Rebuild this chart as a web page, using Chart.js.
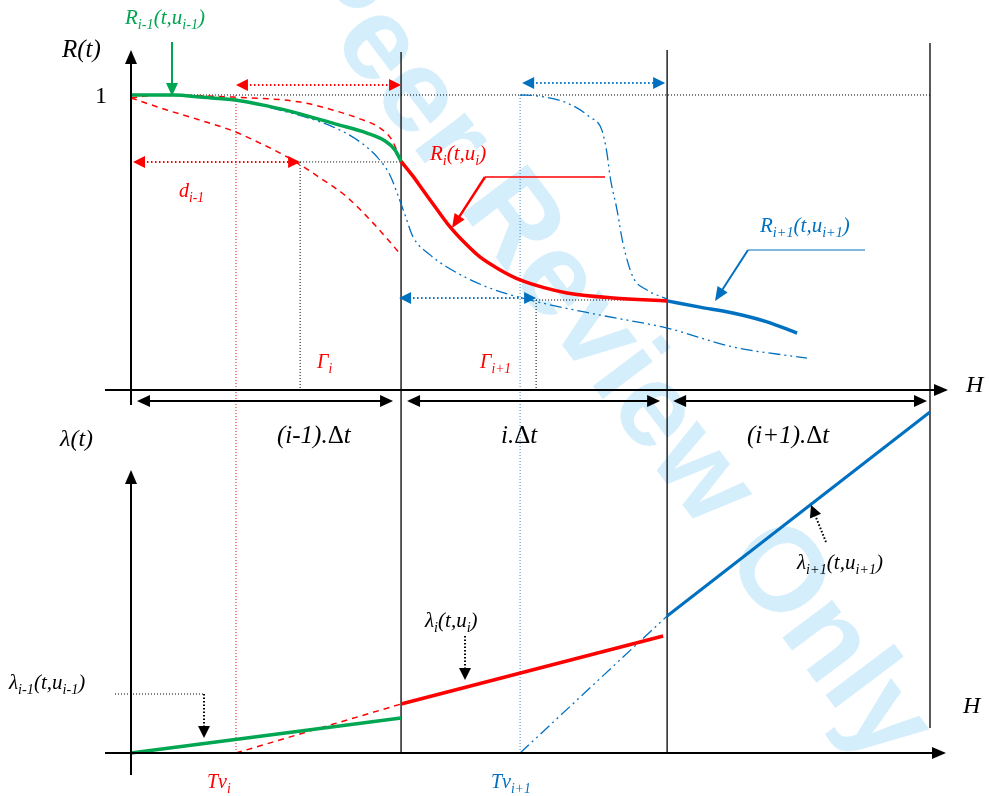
<!DOCTYPE html>
<html>
<head>
<meta charset="utf-8">
<title>R(t) and lambda(t) over successive intervals</title>
<script src="https://cdn.jsdelivr.net/npm/chart.js@4.4.1/dist/chart.umd.min.js"></script>
<style>
  body { margin: 0; background: #fff; }
  #wrap { width: 990px; height: 796px; }
</style>
</head>
<body>
<div id="wrap"><canvas id="diagram" width="990" height="796"></canvas></div>
<script>
// time axis is in units of delta t, R is reliability (0..1), lambda in arbitrary units
var intervalEnds = [1.014, 2.013, 3.0];
var tvPrev = 0.394;      // Tv_i
var tvNext = 1.461;      // Tv_i+1
var gammaI = 0.635;      // Gamma_i
var gammaNext = 1.521;   // Gamma_i+1
var rAtGammaI = 0.773;
var rAtGammaNext = 0.305;

// top panel: reliability curves
var rPrevT = [0, 0.165, 0.259, 0.390, 0.511, 0.635, 0.766, 0.886, 0.954, 0.991, 1.014];
var rPrevR = [1.0, 1.0, 0.993, 0.983, 0.963, 0.936, 0.902, 0.871, 0.844, 0.814, 0.775];

var rUpperDashT = [0, 0.109, 0.383, 0.635, 0.758, 0.860, 0.935, 0.980, 1.014];
var rUpperDashR = [0.990, 1.0, 0.993, 0.976, 0.949, 0.919, 0.888, 0.847, 0.775];

var rLowerDashT = [0, 0.135, 0.259, 0.383, 0.484, 0.586, 0.710, 0.811, 0.916, 1.014];
var rLowerDashR = [0.990, 0.949, 0.915, 0.878, 0.837, 0.790, 0.719, 0.654, 0.559, 0.458];

var rLongDashDotT = [0, 0.184, 0.383, 0.559, 0.758, 0.860, 0.924, 0.972, 0.999, 1.029, 1.059, 1.123, 1.186, 1.337, 1.498, 1.761, 2.013, 2.260, 2.538];
var rLongDashDotR = [1.0, 0.997, 0.983, 0.949, 0.892, 0.841, 0.790, 0.729, 0.668, 0.593, 0.519, 0.458, 0.417, 0.349, 0.305, 0.254, 0.210, 0.146, 0.108];

var rShiftDashDotT = [1.461, 1.524, 1.637, 1.723, 1.768, 1.787, 1.799, 1.825, 1.847, 1.885, 1.937, 2.013];
var rShiftDashDotR = [1.0, 0.997, 0.973, 0.925, 0.881, 0.803, 0.722, 0.610, 0.498, 0.383, 0.339, 0.308];

var rCurT = [1.014, 1.055, 1.096, 1.145, 1.198, 1.254, 1.310, 1.386, 1.461, 1.554, 1.637, 1.810, 2.013];
var rCurR = [0.775, 0.729, 0.678, 0.617, 0.553, 0.498, 0.451, 0.407, 0.373, 0.346, 0.329, 0.312, 0.302];

var rNextT = [2.013, 2.136, 2.260, 2.388, 2.501];
var rNextR = [0.302, 0.281, 0.261, 0.231, 0.193];

// bottom panel: failure rates
var lamPrevT = [0, 1.014];
var lamPrev = [0, 0.35];
var lamCurDashT = [0.394, 1.014];
var lamCurDash = [0, 0.49];
var lamCurT = [1.014, 1.998];
var lamCur = [0.49, 1.17];
var lamNextDashT = [1.461, 2.013];
var lamNextDash = [0, 1.37];
var lamNextT = [2.013, 3.0];
var lamNext = [1.37, 3.41];

var GREEN = '#00a651';
var RED = '#ff0000';
var BLUE = '#0070c0';
var LIGHTBLUE = '#5b9bd5';
var SERIF = '"Liberation Serif", "DejaVu Serif", serif';

function pts(xs, ys) {
    return xs.map(function(x, i) { return { x: x, y: ys[i] }; });
}

function curve(data, color, width, dash, axis, smooth) {
    return {
        data: data,
        yAxisID: axis,
        borderColor: color,
        borderWidth: width,
        borderDash: dash || [],
        pointRadius: 0,
        fill: false,
        cubicInterpolationMode: smooth ? 'monotone' : 'default',
        tension: 0
    };
}

// text with _{...} subscripts, italic serif (Greek capitals stay upright)
function rich(ctx, str, x, y, size, color) {
    var parts = [];
    var re = /_\{([^}]*)\}|([^_]+)/g, m;
    while ((m = re.exec(str)) !== null) {
        if (m[1] !== undefined) parts.push({ t: m[1], sub: true });
        else {
            // split off the upright delta
            m[2].split(/(\u0394)/).forEach(function(s) {
                if (s) parts.push({ t: s, sub: false, up: s === '\u0394' });
            });
        }
    }
    ctx.save();
    ctx.fillStyle = color;
    ctx.textBaseline = 'alphabetic';
    ctx.textAlign = 'left';
    var cx = x;
    parts.forEach(function(p) {
        ctx.font = (p.up ? '' : 'italic ') + (p.sub ? size * 0.68 : size) + 'px ' + SERIF;
        ctx.fillText(p.t, cx, y + (p.sub ? size * 0.25 : 0));
        cx += ctx.measureText(p.t).width;
    });
    ctx.restore();
}

function head(ctx, x1, y1, x2, y2, color, len, wid) {
    var a = Math.atan2(y2 - y1, x2 - x1);
    len = len || 11; wid = wid || 5;
    ctx.save();
    ctx.fillStyle = color;
    ctx.beginPath();
    ctx.moveTo(x2, y2);
    ctx.lineTo(x2 - len * Math.cos(a) + wid * Math.sin(a), y2 - len * Math.sin(a) - wid * Math.cos(a));
    ctx.lineTo(x2 - len * Math.cos(a) - wid * Math.sin(a), y2 - len * Math.sin(a) + wid * Math.cos(a));
    ctx.closePath();
    ctx.fill();
    ctx.restore();
}

function seg(ctx, x1, y1, x2, y2, color, width, dash) {
    ctx.save();
    ctx.strokeStyle = color;
    ctx.lineWidth = width;
    ctx.setLineDash(dash || []);
    ctx.beginPath();
    ctx.moveTo(x1, y1);
    ctx.lineTo(x2, y2);
    ctx.stroke();
    ctx.restore();
}

function arrow(ctx, x1, y1, x2, y2, color, width, dash, len, wid) {
    var a = Math.atan2(y2 - y1, x2 - x1);
    var l = (len || 11) - 2;
    seg(ctx, x1, y1, x2 - l * Math.cos(a), y2 - l * Math.sin(a), color, width, dash);
    head(ctx, x1, y1, x2, y2, color, len, wid);
}

function dblArrow(ctx, x1, y, x2, color, width, dash, len, wid) {
    var l = (len || 11) - 2;
    seg(ctx, x1 + l, y, x2 - l, y, color, width, dash);
    head(ctx, x2, y, x1, y, color, len, wid);
    head(ctx, x1, y, x2, y, color, len, wid);
}

var watermark = {
    id: 'watermark',
    beforeDatasetsDraw: function(chart) {
        var ctx = chart.ctx;
        ctx.save();
        ctx.translate(608, 352);
        ctx.rotate(53 * Math.PI / 180);
        ctx.font = 'bold 118px "Liberation Sans", Arial, sans-serif';
        ctx.fillStyle = '#d5eefb';
        ctx.textAlign = 'center';
        ctx.textBaseline = 'middle';
        ctx.fillText('Peer Review Only', 0, 0);
        ctx.restore();
    }
};

var frame = {
    id: 'frame',
    beforeDatasetsDraw: function(chart) {
        var ctx = chart.ctx;
        var x = chart.scales.x, yR = chart.scales.yR, yL = chart.scales.yL;
        var X = function(v) { return x.getPixelForValue(v); };
        var R = function(v) { return yR.getPixelForValue(v); };
        var L = function(v) { return yL.getPixelForValue(v); };

        // interval boundaries
        seg(ctx, X(intervalEnds[0]), 52, X(intervalEnds[0]), L(0), '#222', 1.5);
        seg(ctx, X(intervalEnds[1]), 50, X(intervalEnds[1]), L(0), '#222', 1.5);
        seg(ctx, X(intervalEnds[2]), 43, X(intervalEnds[2]), 728, '#222', 1.5);

        // guides
        seg(ctx, X(0), R(1), X(intervalEnds[2]), R(1), '#000', 1, [1, 2]);
        seg(ctx, X(tvPrev), R(1), X(tvPrev), L(0), RED, 1, [1, 2]);
        seg(ctx, X(tvNext), R(1), X(tvNext), L(0), LIGHTBLUE, 1.2, [1, 2]);
        seg(ctx, X(gammaI), R(rAtGammaI), X(intervalEnds[0]), R(rAtGammaI), '#000', 1, [1, 2]);
        seg(ctx, X(gammaI), R(rAtGammaI), X(gammaI), R(0), '#000', 1, [1, 2]);
        seg(ctx, X(gammaNext), R(rAtGammaNext), X(intervalEnds[1]), R(rAtGammaNext), '#000', 1, [1, 2]);
        seg(ctx, X(gammaNext), R(rAtGammaNext), X(gammaNext), R(0), '#000', 1, [1, 2]);
    },
    afterDatasetsDraw: function(chart) {
        var ctx = chart.ctx;
        var x = chart.scales.x, yR = chart.scales.yR, yL = chart.scales.yL;
        var X = function(v) { return x.getPixelForValue(v); };
        var R = function(v) { return yR.getPixelForValue(v); };
        var L = function(v) { return yL.getPixelForValue(v); };

        // axes
        arrow(ctx, 105, R(0), 948, R(0), '#000', 2, null, 14, 6);
        arrow(ctx, X(0), 405, X(0), 50, '#000', 2, null, 14, 6);
        arrow(ctx, 105, L(0), 946, L(0), '#000', 2, null, 14, 6);
        arrow(ctx, X(0), 775, X(0), 470, '#000', 2, null, 14, 6);

        // interval spans
        var yb = R(0) + 11;
        dblArrow(ctx, X(0) + 6, yb, X(intervalEnds[0]) - 8, '#000', 2, null, 13, 6);
        dblArrow(ctx, X(intervalEnds[0]) + 6, yb, X(intervalEnds[1]) - 7, '#000', 2, null, 13, 6);
        dblArrow(ctx, X(intervalEnds[1]) + 6, yb, X(intervalEnds[2]) - 3, '#000', 2, null, 13, 6);

        // d_i-1 and Gamma spans
        dblArrow(ctx, X(tvPrev), R(1) - 10, X(intervalEnds[0]), RED, 2, [1.5, 2.5], 12, 6);
        dblArrow(ctx, X(0) + 2, R(rAtGammaI), X(gammaI), RED, 2, [1.5, 2.5], 12, 6);
        dblArrow(ctx, X(tvNext) + 2, R(1) - 12, X(intervalEnds[1]) - 2, BLUE, 2, [1.5, 2.5], 12, 6);
        dblArrow(ctx, X(intervalEnds[0]) - 2, R(rAtGammaNext) - 2, X(gammaNext), BLUE, 2, [1.5, 2.5], 12, 6);

        // callouts, top panel
        arrow(ctx, 172, 42, 172, 96, GREEN, 2, null, 13, 6);
        seg(ctx, 485, 177, 605, 177, RED, 1.5);
        arrow(ctx, 485, 177, 452, 228, RED, 2.5, null, 14, 6);
        seg(ctx, 748, 250, 865, 250, BLUE, 1);
        arrow(ctx, 748, 250, 715, 301, BLUE, 2, null, 14, 6);

        // callouts, bottom panel
        seg(ctx, 115, 694, 204, 694, '#000', 1, [1, 2]);
        arrow(ctx, 204, 694, 204, 738, '#000', 2, [1.5, 2], 12, 6);
        arrow(ctx, 465, 636, 465, 680, '#000', 2, [1.5, 2], 12, 6);
        arrow(ctx, 826, 542, 811, 505, '#000', 2, [1.5, 2], 12, 6);

        // labels
        rich(ctx, 'R_{i-1}(t,u_{i-1})', 125, 24, 21, GREEN);
        rich(ctx, 'R(t)', 62, 57, 25, '#000');
        ctx.save();
        ctx.font = '24px ' + SERIF;
        ctx.fillStyle = '#000';
        ctx.fillText('1', 95, 103);
        ctx.restore();
        rich(ctx, 'd_{i-1}', 179, 197, 20, RED);
        rich(ctx, 'R_{i}(t,u_{i})', 430, 160, 21, RED);
        rich(ctx, 'R_{i+1}(t,u_{i+1})', 760, 232, 21, BLUE);
        rich(ctx, '\u0393_{i}', 317, 368, 20, RED);
        rich(ctx, '\u0393_{i+1}', 480, 368, 20, RED);
        rich(ctx, 'H', 966, 392, 24, '#000');
        rich(ctx, '(i-1).\u0394t', 277, 443, 25, '#000');
        rich(ctx, 'i.\u0394t', 501, 443, 25, '#000');
        rich(ctx, '(i+1).\u0394t', 747, 443, 25, '#000');
        rich(ctx, '\u03bb(t)', 60, 446, 24, '#000');
        rich(ctx, '\u03bb_{i-1}(t,u_{i-1})', 9, 689, 21, '#000');
        rich(ctx, '\u03bb_{i}(t,u_{i})', 425, 627, 21, '#000');
        rich(ctx, '\u03bb_{i+1}(t,u_{i+1})', 797, 569, 21, '#000');
        rich(ctx, 'H', 963, 713, 24, '#000');
        rich(ctx, 'Tv_{i}', 207, 788, 20, RED);
        rich(ctx, 'Tv_{i+1}', 491, 788, 20, BLUE);
    }
};

var ctx = document.getElementById('diagram').getContext('2d');
var diagram = new Chart(ctx, {
    type: 'line',
    data: {
        datasets: [
            curve(pts(rPrevT, rPrevR), GREEN, 3.5, null, 'yR', true),
            curve(pts(rCurT, rCurR), RED, 3.5, null, 'yR', true),
            curve(pts(rNextT, rNextR), BLUE, 3.5, null, 'yR', true),
            curve(pts(rUpperDashT, rUpperDashR), RED, 1.5, [6, 5], 'yR', true),
            curve(pts(rLowerDashT, rLowerDashR), RED, 1.5, [6, 5], 'yR', true),
            curve(pts(rLongDashDotT, rLongDashDotR), BLUE, 1.3, [12, 4, 2, 4, 2, 4], 'yR', true),
            curve(pts(rShiftDashDotT, rShiftDashDotR), BLUE, 1.3, [12, 4, 2, 4, 2, 4], 'yR', true),
            curve(pts(lamPrevT, lamPrev), GREEN, 3.5, null, 'yL', false),
            curve(pts(lamCurT, lamCur), RED, 3.5, null, 'yL', false),
            curve(pts(lamNextT, lamNext), BLUE, 3, null, 'yL', false),
            curve(pts(lamCurDashT, lamCurDash), RED, 1.5, [6, 5], 'yL', false),
            curve(pts(lamNextDashT, lamNextDash), BLUE, 1.3, [12, 4, 2, 4, 2, 4], 'yL', false)
        ]
    },
    options: {
        responsive: false,
        animation: false,
        layout: { padding: 0 },
        scales: {
            x: { type: 'linear', min: -0.4919, max: 3.2253, display: false },
            yR: { type: 'linear', min: -1.3763, max: 1.3220, display: false },
            yL: { type: 'linear', min: -0.43, max: 7.53, display: false }
        },
        plugins: {
            legend: { display: false },
            tooltip: { enabled: false }
        }
    },
    plugins: [watermark, frame]
});
</script>
</body>
</html>
